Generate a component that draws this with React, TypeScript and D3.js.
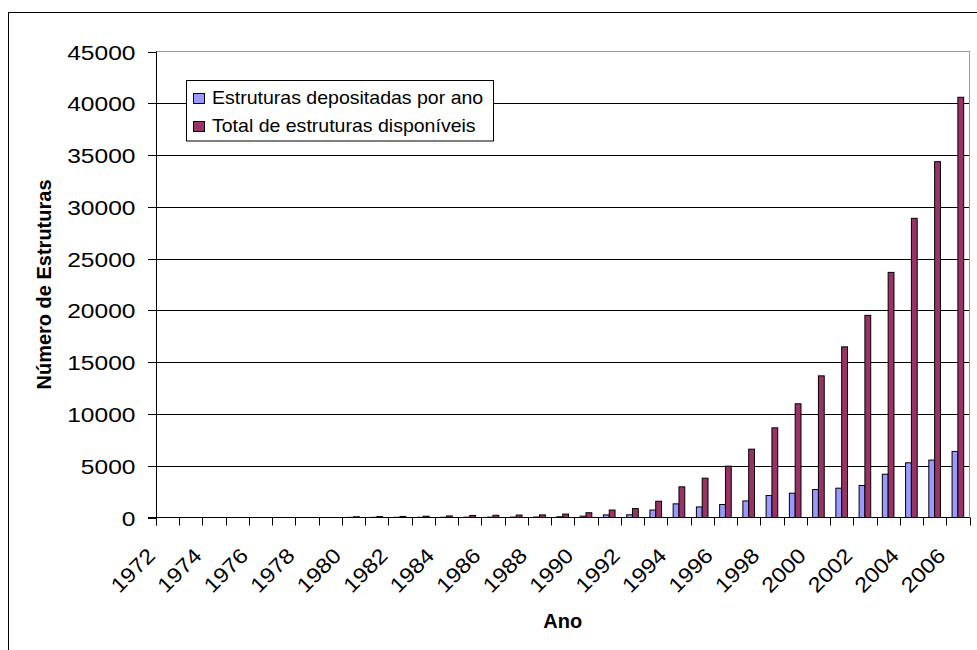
import React, { useRef, useEffect } from "react";
import * as d3 from "d3";

// categories (years)
const years = [
  1972, 1973, 1974, 1975, 1976, 1977, 1978, 1979, 1980, 1981, 1982, 1983,
  1984, 1985, 1986, 1987, 1988, 1989, 1990, 1991, 1992, 1993, 1994, 1995,
  1996, 1997, 1998, 1999, 2000, 2001, 2002, 2003, 2004, 2005, 2006,
];

// structures deposited per year
const depositadas = [
  0, 0, 0, 0, 0, 0, 0, 0, 14, 16, 18, 20, 25, 30, 35, 40, 45, 70, 130, 250,
  260, 720, 1320, 1020, 1255, 1600, 2125, 2350, 2700, 2830, 3090, 4180, 5280,
  5540, 6380,
];

// total available structures
const totais = [
  0, 0, 0, 0, 0, 0, 0, 0, 70, 86, 104, 124, 149, 190, 215, 235, 250,
  330, 460, 720, 860, 1570, 2960, 3800, 4960, 6600, 8660, 10980, 13680, 16480,
  19520, 23670, 28890, 34360, 40580,
];

const yTicks = [0, 5000, 10000, 15000, 20000, 25000, 30000, 35000, 40000, 45000];

const seriesNames = [
  "Estruturas depositadas por ano",
  "Total de estruturas disponíveis",
];
const seriesColors = ["#9999FF", "#993366"];

const FONT = "'Liberation Sans', Arial, sans-serif";

const Chart = ({ width, height }) => {
  const svgRef = useRef(null);

  useEffect(() => {
    const svg = d3.select(svgRef.current);
    svg.selectAll("*").remove();

    // plot area
    const left = 156;
    const right = 969.5;
    const top = 51.5;
    const bottom = 517.5;

    const xScale = d3
      .scaleBand()
      .domain(years.map(String))
      .range([left, right])
      .padding(0);
    const bw = xScale.bandwidth();
    // gap width 200% -> each bar is a quarter of the category
    const inner = d3
      .scaleBand()
      .domain(["0", "1"])
      .range([bw * 0.25, bw * 0.75]);

    const yScale = d3.scaleLinear().domain([0, 45000]).range([bottom, top]);
    const crisp = (v) => Math.round(v) + 0.5;

    // chart frame
    svg
      .append("rect")
      .attr("x", 8.5)
      .attr("y", 12.5)
      .attr("width", width + 50)
      .attr("height", height + 50)
      .attr("fill", "#fff")
      .attr("stroke", "#000");

    // gridlines
    svg
      .append("g")
      .selectAll("line")
      .data(yTicks.filter((t) => t > 0 && t < 45000))
      .enter()
      .append("line")
      .attr("x1", left)
      .attr("x2", right)
      .attr("y1", (d) => crisp(yScale(d)))
      .attr("y2", (d) => crisp(yScale(d)))
      .attr("stroke", "#000");

    // plot area border
    svg
      .append("rect")
      .attr("x", left + 0.5)
      .attr("y", top)
      .attr("width", right - left - 0.5)
      .attr("height", bottom - top)
      .attr("fill", "none")
      .attr("stroke", "#9a9a9a");

    // bars
    const series = [depositadas, totais];
    series.forEach((values, si) => {
      svg
        .append("g")
        .selectAll("rect")
        .data(values)
        .enter()
        .append("rect")
        .attr("x", (d, i) => xScale(String(years[i])) + inner(String(si)))
        .attr("y", (d) => yScale(d))
        .attr("width", inner.bandwidth())
        .attr("height", (d) => bottom - yScale(d))
        .attr("fill", seriesColors[si])
        .attr("stroke", "#000")
        .attr("stroke-width", 1);
    });

    // y axis
    svg
      .append("line")
      .attr("x1", left + 0.5)
      .attr("x2", left + 0.5)
      .attr("y1", top)
      .attr("y2", bottom + 8)
      .attr("stroke", "#000");
    const yAxis = svg.append("g");
    yTicks.forEach((t) => {
      const y = crisp(yScale(t));
      yAxis
        .append("line")
        .attr("x1", left - 8)
        .attr("x2", left)
        .attr("y1", y)
        .attr("y2", y)
        .attr("stroke", "#000");
      yAxis
        .append("text")
        .attr("transform", `translate(135.5, ${y + 7.5}) scale(1.17, 1)`)
        .attr("text-anchor", "end")
        .attr("font-family", FONT)
        .attr("font-size", 21)
        .attr("fill", "#000")
        .text(t);
    });

    // x axis
    svg
      .append("line")
      .attr("x1", left - 8)
      .attr("x2", right)
      .attr("y1", bottom)
      .attr("y2", bottom)
      .attr("stroke", "#000");
    const xAxis = svg.append("g");
    const bounds = years.map((y) => xScale(String(y))).concat([right]);
    bounds.forEach((bx) => {
      xAxis
        .append("line")
        .attr("x1", crisp(bx))
        .attr("x2", crisp(bx))
        .attr("y1", bottom)
        .attr("y2", bottom + 8)
        .attr("stroke", "#000");
    });
    years.forEach((yr, i) => {
      if (i % 2 !== 0) return;
      xAxis
        .append("text")
        .attr(
          "transform",
          `translate(${xScale(String(yr)) + 0.5}, 557) rotate(-45) scale(1.12, 1)`
        )
        .attr("text-anchor", "end")
        .attr("font-family", FONT)
        .attr("font-size", 21)
        .attr("fill", "#000")
        .text(yr);
    });

    // axis titles
    svg
      .append("text")
      .attr("transform", `translate(51, ${(top + bottom) / 2}) rotate(-90)`)
      .attr("text-anchor", "middle")
      .attr("font-family", FONT)
      .attr("font-weight", "bold")
      .attr("font-size", 20)
      .text("Número de Estruturas");
    svg
      .append("text")
      .attr("x", (left + right) / 2)
      .attr("y", 627.5)
      .attr("text-anchor", "middle")
      .attr("font-family", FONT)
      .attr("font-weight", "bold")
      .attr("font-size", 20)
      .text("Ano");

    // legend
    const legend = svg.append("g");
    legend
      .append("rect")
      .attr("x", 186.5)
      .attr("y", 80.5)
      .attr("width", 307)
      .attr("height", 60.5)
      .attr("fill", "#fff")
      .attr("stroke", "#000");
    seriesNames.forEach((name, i) => {
      legend
        .append("rect")
        .attr("x", 193.5)
        .attr("y", 93.5 + i * 28)
        .attr("width", 11)
        .attr("height", 10)
        .attr("fill", seriesColors[i])
        .attr("stroke", "#000");
      legend
        .append("text")
        .attr("transform", `translate(212, ${104.3 + i * 28}) scale(1.085, 1)`)
        .attr("font-family", FONT)
        .attr("font-size", 18)
        .attr("fill", "#000")
        .text(name);
    });
  }, [width, height]);

  return (
    <svg
      ref={svgRef}
      width={width}
      height={height}
      style={{ position: "absolute", left: 0, top: 0, display: "block" }}
    ></svg>
  );
};

export default function App() {
  return <Chart width={977} height={650} />;
}
